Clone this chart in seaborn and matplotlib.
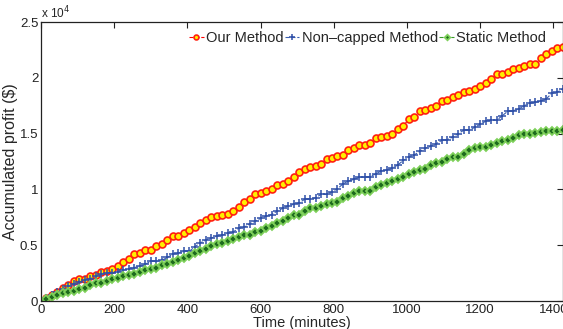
import matplotlib
matplotlib.use("Agg")
import matplotlib.pyplot as plt
import seaborn as sns
import numpy as np
import pandas as pd

# time axis, one sample every 15 minutes
minutes = list(range(0, 1440, 15))

# accumulated profit in units of 10^4 $
our_method = [0, 0.03, 0.05, 0.08, 0.12, 0.14, 0.18, 0.20, 0.20, 0.22, 0.23, 0.26,
              0.27, 0.29, 0.31, 0.35, 0.38, 0.42, 0.43, 0.455, 0.455, 0.49, 0.515, 0.545,
              0.58, 0.58, 0.605, 0.635, 0.66, 0.70, 0.73, 0.75, 0.76, 0.77, 0.78, 0.81,
              0.84, 0.89, 0.91, 0.955, 0.97, 0.99, 1.0, 1.035, 1.05, 1.075, 1.115, 1.155,
              1.185, 1.20, 1.21, 1.23, 1.27, 1.28, 1.30, 1.31, 1.35, 1.37, 1.40, 1.40,
              1.42, 1.46, 1.47, 1.48, 1.50, 1.54, 1.57, 1.63, 1.65, 1.70, 1.715, 1.73,
              1.745, 1.79, 1.80, 1.825, 1.85, 1.87, 1.885, 1.90, 1.93, 1.95, 1.99, 2.03,
              2.035, 2.055, 2.08, 2.09, 2.11, 2.12, 2.125, 2.175, 2.21, 2.24, 2.265, 2.28]

non_capped = [0, 0.03, 0.05, 0.08, 0.11, 0.13, 0.15, 0.17, 0.19, 0.20, 0.22, 0.24,
              0.25, 0.25, 0.26, 0.275, 0.29, 0.30, 0.31, 0.33, 0.355, 0.355, 0.365, 0.39,
              0.42, 0.43, 0.445, 0.445, 0.485, 0.52, 0.545, 0.565, 0.58, 0.59, 0.605, 0.62,
              0.65, 0.66, 0.69, 0.715, 0.74, 0.76, 0.775, 0.805, 0.83, 0.855, 0.865, 0.88,
              0.91, 0.915, 0.925, 0.955, 0.955, 0.98, 1.005, 1.05, 1.075, 1.09, 1.11, 1.11,
              1.115, 1.14, 1.165, 1.175, 1.19, 1.22, 1.26, 1.29, 1.31, 1.34, 1.37, 1.385,
              1.41, 1.44, 1.445, 1.47, 1.50, 1.53, 1.535, 1.555, 1.585, 1.61, 1.62, 1.62,
              1.66, 1.70, 1.705, 1.72, 1.75, 1.77, 1.78, 1.79, 1.81, 1.86, 1.87, 1.90]

static_method = [0, 0.02, 0.04, 0.055, 0.07, 0.085, 0.09, 0.105, 0.12, 0.14, 0.16, 0.165,
                 0.18, 0.195, 0.21, 0.22, 0.23, 0.245, 0.26, 0.275, 0.29, 0.30, 0.32, 0.335,
                 0.35, 0.37, 0.385, 0.40, 0.43, 0.45, 0.47, 0.49, 0.51, 0.52, 0.54, 0.56,
                 0.57, 0.59, 0.59, 0.62, 0.625, 0.65, 0.67, 0.70, 0.715, 0.745, 0.775, 0.775,
                 0.805, 0.83, 0.835, 0.855, 0.87, 0.88, 0.885, 0.92, 0.945, 0.97, 0.985, 0.985,
                 0.99, 1.02, 1.035, 1.055, 1.075, 1.095, 1.115, 1.135, 1.155, 1.175, 1.185, 1.215,
                 1.235, 1.25, 1.275, 1.29, 1.29, 1.32, 1.355, 1.37, 1.38, 1.38, 1.395, 1.42,
                 1.43, 1.44, 1.46, 1.49, 1.50, 1.50, 1.505, 1.51, 1.52, 1.525, 1.525, 1.53]

series_names = ["Our Method", "Non\u2013capped Method", "Static Method"]
yticks = [0, 0.5, 1, 1.5, 2, 2.5]
ytick_labels = ["0", "0.5", "1", "1.5", "2", "2.5"]
xticks = [0, 200, 400, 600, 800, 1000, 1200, 1400]

sns.set_style("white")
plt.rcParams["font.family"] = ["Liberation Sans", "DejaVu Sans"]

fig = plt.figure(figsize=(5.63, 3.29), dpi=100)
ax = fig.add_axes([0.0728, 0.0851, 0.9265, 0.848])

df = pd.DataFrame({"t": minutes, "our": our_method, "nc": non_capped, "st": static_method})

sns.lineplot(data=df, x="t", y="our", ax=ax, color="red", linestyle="--", linewidth=0.8,
             marker="o", markersize=5, markerfacecolor="#ffee00",
             markeredgecolor="#ff2010", markeredgewidth=1.2, label=series_names[0])
sns.lineplot(data=df, x="t", y="nc", ax=ax, color="#3a5fb0", linestyle="--", linewidth=0.8,
             marker="+", markersize=6, markeredgecolor="#2f50a8",
             markeredgewidth=1.1, label=series_names[1])
sns.lineplot(data=df, x="t", y="st", ax=ax, color="#3a9a2a", linestyle="--", linewidth=0.8,
             marker="D", markersize=4, markerfacecolor="#1d6b1d",
             markeredgecolor="#7ed05a", markeredgewidth=1.3, label=series_names[2])

ax.set_xlim(0, 1425)
ax.set_ylim(0, 2.5)
ax.set_xticks(xticks)
ax.set_xticklabels([str(v) for v in xticks])
ax.set_yticks(yticks)
ax.set_yticklabels(ytick_labels)
ax.tick_params(direction="in", length=4, width=0.8, top=True, right=True,
               labelsize=9.5, pad=2, colors="#222222")
for s in ax.spines.values():
    s.set_visible(True)
    s.set_color("#222222")
    s.set_linewidth(0.9)

ax.set_xlabel("Time (minutes)", fontsize=10.5, labelpad=0)
ax.set_ylabel("Accumulated profit (\\$)", fontsize=11.5, labelpad=1)
ax.text(0.0, 1.003, r"x 10$^{4}$", transform=ax.transAxes, fontsize=8.5,
        ha="left", va="bottom")

ax.legend(loc="upper right", ncol=3, frameon=False, fontsize=10.5, handlelength=1.0,
          handletextpad=0.15, columnspacing=0.1, borderaxespad=0.2, markerscale=0.7,
          bbox_to_anchor=(0.985, 1.0))

fig.savefig("out.png", dpi=100)
